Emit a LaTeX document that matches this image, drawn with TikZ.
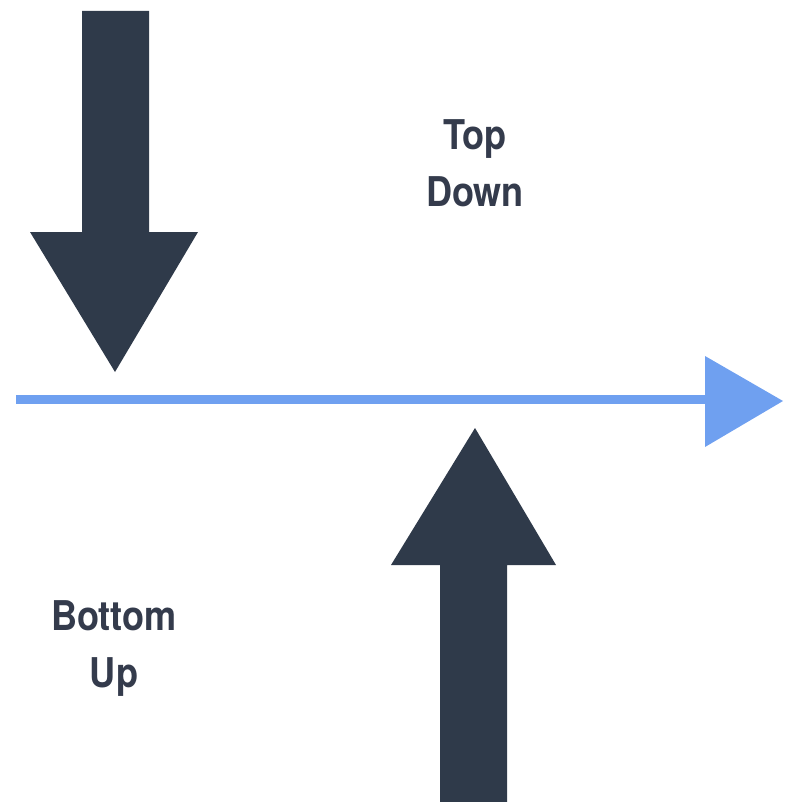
\documentclass[tikz,border=0pt]{standalone}
\usepackage{fontspec}
\setmainfont{TeX Gyre Heros}[FakeStretch=0.88]
\definecolor{arrowdark}{HTML}{2F3A4A}
\definecolor{axisblue}{HTML}{6FA0F0}
\definecolor{textdark}{HTML}{343B4C}
\begin{document}
\begin{tikzpicture}[x=1pt,y=-1pt,
  bigarrow/.style={fill=arrowdark},
  label/.style={text=textdark,font=\fontsize{41}{57}\selectfont\bfseries,align=center,inner sep=0pt}]
\useasboundingbox (0,0) rectangle (784,802);
% down arrow
\fill[bigarrow] (82,11) -- (149,11) -- (149,232) -- (198,232) -- (115,372) -- (30,232) -- (82,232) -- cycle;
% horizontal axis
\fill[axisblue] (16,395) rectangle (706,404);
\fill[axisblue] (705,356) -- (783,401) -- (705,447) -- cycle;
% up arrow
\fill[bigarrow] (475,428) -- (556,565) -- (507,565) -- (507,802) -- (440,802) -- (440,565) -- (391,565) -- cycle;
% labels
\node[label] (td) at (475,163) {Top\\Down};
\node[label] (bu) at (114,649) {Bottom\\Up};
\end{tikzpicture}
\end{document}
